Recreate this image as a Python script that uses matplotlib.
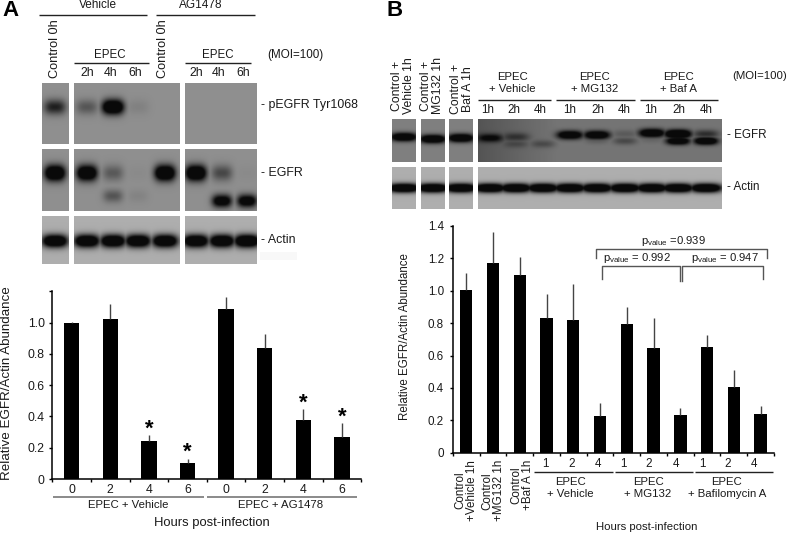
import numpy as np
import matplotlib
matplotlib.use('Agg')
import matplotlib.pyplot as plt

plt.rcParams['font.family'] = ['Liberation Sans', 'DejaVu Sans']
plt.rcParams['mathtext.fontset'] = 'custom'
plt.rcParams['mathtext.rm'] = 'Liberation Sans'
plt.rcParams['mathtext.default'] = 'rm'

W, H = 787, 533
TXT = '#1a1a1a'

# bar data, panel A
a_values = [1.0, 1.025, 0.245, 0.105, 1.09, 0.84, 0.38, 0.27]
a_errors = [0.003, 0.095, 0.035, 0.02, 0.072, 0.088, 0.066, 0.086]
a_hours = ['0', '2', '4', '6', '0', '2', '4', '6']
a_yticks = [0, 0.2, 0.4, 0.6, 0.8, 1.0, 1.2]
a_ylabels = ['0', '0.2', '0.4', '0.6', '0.8', '1.0', '']
a_star_bars = [2, 3, 6, 7]

# bar data, panel B
b_values = [1.003, 1.17, 1.10, 0.834, 0.82, 0.226, 0.797, 0.644, 0.23, 0.65, 0.405, 0.24]
b_errors = [0.105, 0.195, 0.107, 0.148, 0.222, 0.079, 0.101, 0.186, 0.044, 0.075, 0.104, 0.046]
b_yticks = [0, 0.2, 0.4, 0.6, 0.8, 1.0, 1.2, 1.4]
b_ylabels = ['0', '0.2', '0.4', '0.6', '0.8', '1.0', '1.2', '1.4']

# band strengths per lane, panel A
a_lanes = [55, 87, 113, 138, 165, 196, 222, 247]
a_pegfr = [0.5, 0.25, 1.0, 0.06, 0, 0, 0, 0]
a_egfr_up = [1.0, 0.95, 0.24, 0.02, 1.0, 1.0, 0.32, 0.02]
a_egfr_low = [0, 0, 0.26, 0.05, 0, 0, 0.8, 0.8]
a_actin = [0.95, 0.95, 0.95, 0.95, 0.95, 0.95, 0.95, 1.0]

# band strengths per lane, panel B
b_lanes = [404, 433, 461, 490, 516, 543, 570, 597, 625, 652, 678, 706]
b_egfr_up = [1, 1, 1, 0.7, 0.35, 0.03, 0.95, 0.95, 0.15, 1, 1.2, 0.4]
b_egfr_low = [0, 0, 0, 0, 0.2, 0.22, 0, 0.15, 0.25, 0.1, 0.95, 1]
b_actin = [1, 1, 1, 1, 1, 1, 1, 1, 1, 1, 1, 1]


def px_axes(x0, y_top, x1, y_bottom):
    return fig.add_axes([x0 / W, 1 - y_bottom / H, (x1 - x0) / W, (y_bottom - y_top) / H])


def blot(box, bg, lanes, strengths, y, half_w, half_h, bg_right=None):
    # box is x0, x1, y0, y1 in pixels; several band rows can be given
    x0, x1, y0, y1 = box
    xs = np.arange(x0, x1, 0.5) + 0.25
    ys = np.arange(y0, y1, 0.5) + 0.25
    xx, yy = np.meshgrid(xs, ys)
    dark = np.zeros_like(xx)
    for st_row, y_row, hw, hh in zip(strengths, y, half_w, half_h):
        for lane, st, yc in zip(lanes, st_row, y_row):
            if st > 0:
                d = np.abs((xx - lane) / hw) ** 3 + np.abs((yy - yc) / hh) ** 2
                dark = np.maximum(dark, st * np.exp(-d) * 1.7)
    dark = np.clip(dark, 0, 1)
    back = np.full_like(xx, bg)
    if bg_right is not None:
        back = bg + (bg_right - bg) * np.clip((xx - x0) / (x1 - x0) * 3, 0, 1)
    img = back * (1 - dark) + 0.04 * dark
    over.imshow(img, extent=(x0, x1, y1, y0), cmap='gray', vmin=0, vmax=1,
                interpolation='bilinear', aspect='auto', zorder=1)


def text(x, y, s, size=8.8, ha='center', va='center', **kw):
    kw.setdefault('color', TXT)
    over.text(x, y, s, fontsize=size, ha=ha, va=va, **kw)


def rule(x0, x1, y, color='#222222', lw=1.0):
    over.plot([x0, x1], [y, y], color=color, lw=lw, solid_capstyle='butt', zorder=3)


def bars(ax, values, errors, width, yticks, ylabels, ymax, size, pad):
    pos = np.arange(len(values))
    ax.bar(pos, values, width=width, color='black')
    ax.errorbar(pos, values, yerr=[np.zeros(len(values)), errors], fmt='none',
                ecolor='#444444', elinewidth=1.0, capsize=0)
    ax.set_xlim(-0.5, len(values) - 0.5)
    ax.set_ylim(0, ymax)
    ax.set_yticks(yticks)
    ax.set_yticklabels(ylabels, fontsize=size, color=TXT)
    ax.set_xticks(np.arange(len(values) + 1) - 0.5)
    ax.set_xticklabels([])
    ax.tick_params(length=2.5, width=1.0, pad=pad)
    ax.patch.set_alpha(0)
    for side in ['top', 'right']:
        ax.spines[side].set_visible(False)
    for side in ['left', 'bottom']:
        ax.spines[side].set_linewidth(1.1)


fig = plt.figure(figsize=(W / 100, H / 100), dpi=100)

over = fig.add_axes([0, 0, 1, 1])
over.set_xlim(0, W)
over.set_ylim(H, 0)
over.axis('off')

# panel A blots
a_cols = [(42, 69, [0]), (74, 180, [1, 2, 3, 4]), (185, 257, [5, 6, 7])]
for x0, x1, idx in a_cols:
    la = [a_lanes[i] for i in idx]
    n = len(idx)
    blot((x0, x1, 83, 144), 0.56, la, [[a_pegfr[i] for i in idx]], [[107] * n], [11], [7.5])
    blot((x0, x1, 149, 211), 0.56, la,
         [[a_egfr_up[i] for i in idx], [a_egfr_low[i] for i in idx]],
         [[173] * n, [196 if i < 6 else 201 for i in idx]], [10.5, 10], [8, 6.5])
    blot((x0, x1, 216, 264), 0.68, la, [[a_actin[i] for i in idx]], [[241] * n], [13], [6.5])

# panel B blots
b_cols = [(392, 416, [0]), (421, 445, [1]), (449, 473, [2]), (478, 722, list(range(3, 12)))]
b_up_y = [137, 139, 138, 138, 137, 144, 135, 135, 134, 133, 134, 134]
b_low_y = [137, 139, 138, 138, 144, 144, 135, 140, 141, 139, 141, 141]
for x0, x1, idx in b_cols:
    la = [b_lanes[i] for i in idx]
    right = 0.46 if x0 == 478 else None
    blot((x0, x1, 119, 162), 0.5 if x0 != 478 else 0.33, la,
         [[b_egfr_up[i] for i in idx], [b_egfr_low[i] for i in idx]],
         [[b_up_y[i] for i in idx], [b_low_y[i] for i in idx]], [13, 12], [4.2, 3.8],
         bg_right=right)
    blot((x0, x1, 167, 209), 0.68, la, [[b_actin[i] for i in idx]], [[188] * len(idx)], [16], [4.5])

# panel A labels
text(2, 10, 'A', size=16, ha='left', fontweight='bold', color='black')
text(98, 5, 'Vehicle', size=8.5)
text(201, 5, 'AG1478', size=8.5)
rule(39, 147, 15)
rule(156, 255, 15)
text(55, 78, 'Control 0h', size=9.2, rotation=90, va='bottom')
text(163, 78, 'Control 0h', size=9.2, rotation=90, va='bottom')
text(110, 55, 'EPEC', size=8.3)
rule(74, 149, 63)
text(218, 55, 'EPEC', size=8.3)
rule(185, 251, 63)
for x, s in zip([87, 111, 135, 196, 219, 243], ['2h', '4h', '6h'] * 2):
    text(x, 73, s)
text(267, 55, '(MOI=100)', size=8.4, ha='left')
text(261, 105, '- pEGFR Tyr1068', size=8.9, ha='left')
text(261, 173, '- EGFR', size=8.9, ha='left')
text(261, 240, '- Actin', size=8.9, ha='left')

# panel A chart
ax_a = px_axes(52.4, 291, 361.3, 479)
bars(ax_a, a_values, a_errors, 0.4, a_yticks, a_ylabels, 1.203, 8.8, 3)
for x, s in zip([71.7, 110, 149, 187.3, 226, 264.7, 303.3, 342], a_hours):
    text(x, 490, s)
rule(53, 204, 497, color='#777777', lw=1.2)
rule(207, 357, 497, color='#777777', lw=1.2)
text(128, 505, 'EPEC + Vehicle', size=8.2)
text(281, 505, 'EPEC + AG1478', size=8.2)
text(212, 523, 'Hours post-infection', size=9.4)
text(7, 383, 'Relative EGFR/Actin Abundance', size=9.6, rotation=90)
over.fill_between([260, 297], 252, 260, color='#f8f8f8', lw=0, zorder=0)
for i, y in zip(a_star_bars, [429, 452, 403, 417]):
    ax_a.annotate('*', (i, 0), xycoords=('data', 'axes fraction'), annotation_clip=False,
                  xytext=(0, 479 - y), textcoords='offset pixels',
                  ha='center', va='center', fontsize=16, fontweight='bold', color='black')

# panel B labels
text(387, 10, 'B', size=16, ha='left', fontweight='bold', color='black')
for x, s in zip([403, 432, 462], ['Control +\nVehicle 1h', 'Control +\nMG132 1h', 'Control +\nBaf A 1h']):
    text(x, 114, s, rotation=90, va='bottom', linespacing=1.0)
for x, s in zip([512, 595, 678], ['EPEC\n+ Vehicle', 'EPEC\n+ MG132', 'EPEC\n+ Baf A']):
    text(x, 83, s, size=8.2, linespacing=1.25)
rule(478, 551, 100)
rule(556, 635, 100)
rule(640, 718, 100)
for x, s in zip([488, 514, 540, 570, 598, 624, 651, 679, 706], ['1h', '2h', '4h'] * 3):
    text(x, 110, s, size=8.4)
text(732, 76, '(MOI=100)', size=8.2, ha='left')
text(727, 135, '- EGFR', size=8.4, ha='left')
text(727, 187, '- Actin', size=8.4, ha='left')

# panel B chart
ax_b = px_axes(452.9, 226, 774, 452.7)
bars(ax_b, b_values, b_errors, 0.46, b_yticks, b_ylabels, 1.4, 8.4, 4)
for x, s in zip([466, 493, 522], ['Control\n+Vehicle 1h', 'Control\n+MG132 1h', 'Control\n+Baf A 1h']):
    text(x, 460, s, size=8.4, rotation=90, va='top', linespacing=1.0)
for x, s in zip([545, 572, 598, 623, 649, 676, 702, 728, 754], ['1', '2', '4'] * 3):
    text(x, 464, s, size=8.4)
rule(534, 613, 472)
rule(615, 693, 472)
rule(695, 773, 472)
for x, s in zip([570, 648, 727], ['EPEC\n+ Vehicle', 'EPEC\n+ MG132', 'EPEC\n+ Bafilomycin A']):
    text(x, 488, s, size=8.2, linespacing=1.25)
text(647, 527, 'Hours post-infection', size=8.2)
text(405, 337, 'Relative EGFR/Actin Abundance', size=8.3, rotation=90)

# p value brackets
bracket_color = '#555555'
over.plot([596, 596, 767, 767], [258, 249, 249, 258], color=bracket_color, lw=1.0, zorder=3)
over.plot([602, 602, 680, 680], [279, 266, 266, 281], color=bracket_color, lw=1.0, zorder=3)
over.plot([682, 682, 763, 763], [281, 266, 266, 279], color=bracket_color, lw=1.0, zorder=3)
text(673, 241, r'p$_{\mathrm{value}}$ =0.939', size=8.1)
text(637, 258, r'p$_{\mathrm{value}}$ = 0.992', size=8.1)
text(725, 258, r'p$_{\mathrm{value}}$ = 0.947', size=8.1)

fig.savefig('out.png', dpi=100)
